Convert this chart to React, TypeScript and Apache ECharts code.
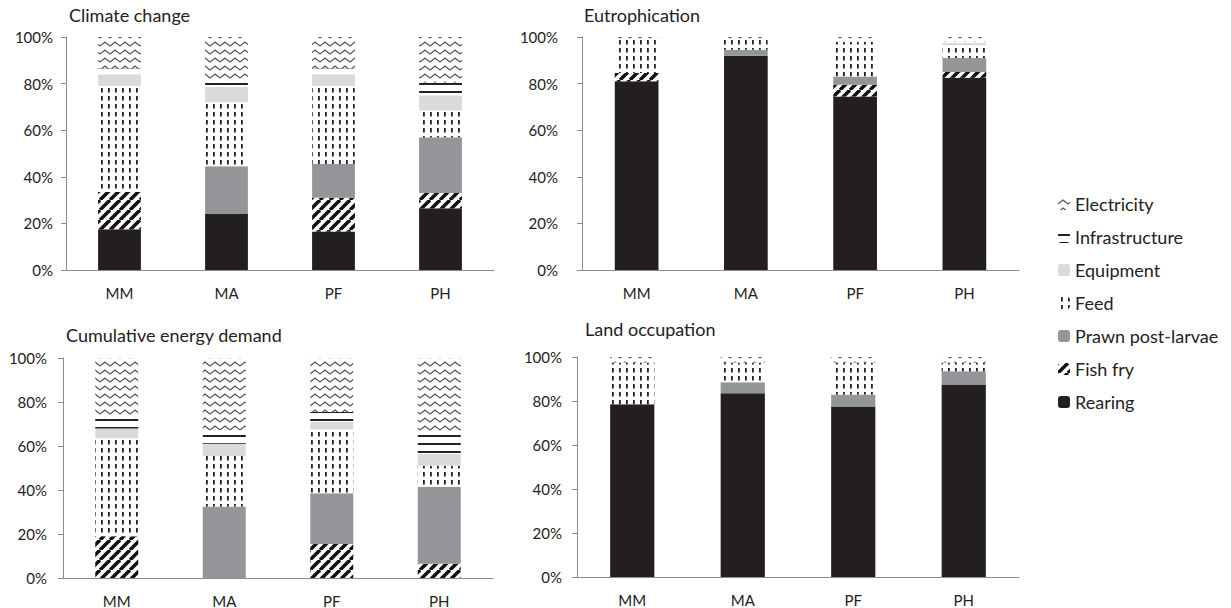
import React, { useEffect, useRef } from "react";
import * as echarts from "echarts";

const categories = ["MM", "MA", "PF", "PH"];
const stageNames = ["Rearing", "Fish fry", "Prawn post-larvae", "Feed", "Equipment", "Infrastructure", "Electricity"];
const legendOrder = ["Electricity", "Infrastructure", "Equipment", "Feed", "Prawn post-larvae", "Fish fry", "Rearing"];
const chartTitles = ["Climate change", "Eutrophication", "Cumulative energy demand", "Land occupation"];

// Climate change (% share per stage, MM, MA, PF, PH)
const ccRearing = [17.5, 24, 16.5, 26.5];
const ccFishFry = [16, 0, 14.5, 6.5];
const ccPrawn = [0, 20.5, 14.5, 24];
const ccFeed = [45.5, 27.5, 33.5, 11.5];
const ccEquipment = [5, 6.5, 5, 6.5];
const ccInfrastructure = [2.5, 2.5, 2.5, 5.5];
const ccElectricity = [13.5, 19, 13.5, 19.5];

// Eutrophication
const euRearing = [81, 92, 74.5, 82.5];
const euFishFry = [3.5, 0, 5, 2.5];
const euPrawn = [0, 2.5, 3.5, 6];
const euFeed = [14.5, 4.5, 15, 5.5];
const euEquipment = [0, 0, 0, 1];
const euInfrastructure = [0, 0, 0.5, 0.5];
const euElectricity = [1, 1, 1.5, 2];

// Cumulative energy demand
const ceRearing = [0, 0, 0, 0];
const ceFishFry = [19, 0, 15.5, 6.5];
const cePrawn = [0, 32.5, 23, 35];
const ceFeed = [44.5, 23, 29, 9.5];
const ceEquipment = [4.5, 5.5, 3.5, 5.5];
const ceInfrastructure = [5, 6, 4.5, 9.5];
const ceElectricity = [27, 33, 24.5, 34];

// Land occupation
const loRearing = [78.5, 83.5, 77.5, 87.5];
const loFishFry = [0, 0, 0, 0];
const loPrawn = [0, 5, 5.5, 6];
const loFeed = [19, 9, 14.5, 4];
const loEquipment = [0, 0, 0, 0];
const loInfrastructure = [0, 0, 0, 0];
const loElectricity = [2.5, 2.5, 2.5, 2.5];

const chartData = [
  [ccRearing, ccFishFry, ccPrawn, ccFeed, ccEquipment, ccInfrastructure, ccElectricity],
  [euRearing, euFishFry, euPrawn, euFeed, euEquipment, euInfrastructure, euElectricity],
  [ceRearing, ceFishFry, cePrawn, ceFeed, ceEquipment, ceInfrastructure, ceElectricity],
  [loRearing, loFishFry, loPrawn, loFeed, loEquipment, loInfrastructure, loElectricity],
];

const FONT = "Lato";

function makePattern(w: number, h: number, draw: (ctx: CanvasRenderingContext2D) => void) {
  const c = document.createElement("canvas");
  c.width = w;
  c.height = h;
  const ctx = c.getContext("2d") as CanvasRenderingContext2D;
  ctx.fillStyle = "#ffffff";
  ctx.fillRect(0, 0, w, h);
  draw(ctx);
  return { image: c.toDataURL(), repeat: "repeat", imageWidth: w, imageHeight: h } as any;
}

export default function App() {
  const ref = useRef<HTMLDivElement>(null);
  useEffect(() => {
    if (!ref.current) return;
    const chart = echarts.init(ref.current, null, { renderer: "svg" });

    const wave = makePattern(10, 8, (ctx) => {
      ctx.strokeStyle = "#555555";
      ctx.lineWidth = 1.3;
      ctx.beginPath();
      ctx.moveTo(0, 6);
      ctx.lineTo(5, 2);
      ctx.lineTo(10, 6);
      ctx.stroke();
    });
    const hlines = makePattern(4, 8, (ctx) => {
      ctx.fillStyle = "#222222";
      ctx.fillRect(0, 3, 4, 2);
    });
    const dashes = makePattern(7, 8, (ctx) => {
      ctx.fillStyle = "#222222";
      ctx.fillRect(3, 0, 1.8, 4.5);
    });
    const diag = makePattern(10, 10, (ctx) => {
      ctx.strokeStyle = "#111111";
      ctx.lineWidth = 3.5;
      for (const k of [-10, 0, 10]) {
        ctx.beginPath();
        ctx.moveTo(k, 10);
        ctx.lineTo(k + 10, 0);
        ctx.stroke();
      }
    });

    const fills: any[] = ["#231f20", diag, "#939598", dashes, "#d9dadb", hlines, wave];

    const grids = [
      { left: 66, top: 37, width: 428, height: 233 },
      { left: 582, top: 37, width: 437, height: 233 },
      { left: 63, top: 358, width: 430, height: 220 },
      { left: 577, top: 357, width: 442, height: 220 },
    ];
    const yMargins = [13, 24, 16, 15];
    const titlePos = [
      { left: 69, top: 6 },
      { left: 584, top: 6 },
      { left: 66, top: 326 },
      { left: 585, top: 320 },
    ];
    const axisColor = "#8c8c8c";

    const series: any[] = [];
    chartData.forEach((stages, g) => {
      stages.forEach((vals, s) => {
        series.push({
          type: "bar",
          name: stageNames[s],
          stack: "st" + g,
          xAxisIndex: g,
          yAxisIndex: g,
          barWidth: "40%",
          data: vals,
          itemStyle: { color: fills[s] },
        });
      });
    });

    chart.setOption({
      animation: false,
      backgroundColor: "#ffffff",
      title: chartTitles.map((t, i) => ({
        text: t,
        left: titlePos[i].left,
        top: titlePos[i].top,
        padding: 0,
        textStyle: { fontFamily: FONT, fontSize: 18, fontWeight: "normal", color: "#222" },
      })),
      legend: {
        orient: "vertical",
        left: 1053,
        top: 189,
        itemWidth: 12,
        itemHeight: 12,
        itemGap: 13,
        data: legendOrder,
        textStyle: { fontFamily: FONT, fontSize: 18, color: "#222", lineHeight: 20 },
      },
      grid: grids,
      xAxis: grids.map((_, g) => ({
        type: "category",
        gridIndex: g,
        data: categories,
        axisLine: { lineStyle: { color: axisColor, width: 1 } },
        axisTick: { length: 5, lineStyle: { color: axisColor } },
        axisLabel: { fontFamily: FONT, fontSize: 15, color: "#222", margin: 15 },
      })),
      yAxis: grids.map((_, g) => ({
        type: "value",
        gridIndex: g,
        min: 0,
        max: 100,
        interval: 20,
        axisLine: { show: true, lineStyle: { color: axisColor, width: 1 } },
        axisTick: { show: true, length: 5, lineStyle: { color: axisColor } },
        splitLine: { show: false },
        axisLabel: { formatter: "{value}%", fontFamily: FONT, fontSize: 15, color: "#222", margin: yMargins[g] },
      })),
      series,
    });
    return () => chart.dispose();
  }, []);
  return <div ref={ref} style={{ position: "fixed", left: 0, top: 0, width: 1231, height: 608 }} />;
}
